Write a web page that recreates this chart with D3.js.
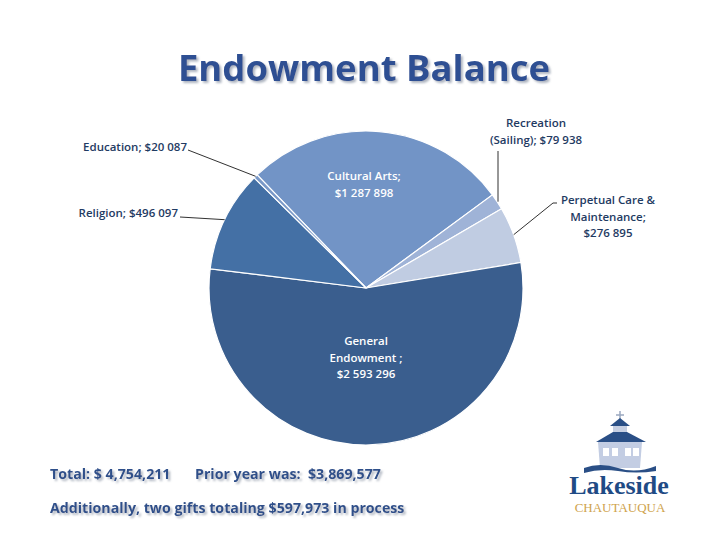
<!DOCTYPE html>
<html>
<head>
<meta charset="utf-8">
<script src="https://cdn.jsdelivr.net/npm/d3@7"></script>
<style>
  body { margin: 0; background: #fff; }
  svg { display: block; }
</style>
</head>
<body>
<div id="chart"></div>
<script>
// data
const categories = ["Cultural Arts", "Recreation (Sailing)", "Perpetual Care & Maintenance", "General Endowment ", "Religion", "Education"];
const values = [1287898, 79938, 276895, 2593296, 496097, 20087];
const sliceColors = ["#7294c6", "#9fb3d7", "#c0cce2", "#3a5e8e", "#4470a5", "#7a99c8"];

const width = 720, height = 540;
const cx = 366, cy = 288, radius = 157;

const svg = d3.select("#chart").append("svg")
    .attr("width", width)
    .attr("height", height);

const defs = svg.append("defs");
const shadow = defs.append("filter").attr("id", "txtShadow")
    .attr("x", "-5%").attr("y", "-20%").attr("width", "110%").attr("height", "150%");
shadow.append("feDropShadow")
    .attr("dx", 2).attr("dy", 2).attr("stdDeviation", 0.8)
    .attr("flood-color", "#9aa3b0").attr("flood-opacity", 0.8);

// title
svg.append("text")
    .attr("x", 364)
    .attr("y", 81)
    .attr("text-anchor", "middle")
    .attr("font-family", "'Open Sans', 'Noto Sans', sans-serif")
    .attr("font-weight", "bold")
    .attr("font-size", "36.5px")
    .attr("fill", "#2d4f93")
    .attr("filter", "url(#txtShadow)")
    .text("Endowment Balance");

// pie (first slice starts at upper-left, clockwise)
const startDeg = -43.9;
const pie = d3.pie().sort(null)
    .startAngle(startDeg * Math.PI / 180)
    .endAngle((startDeg + 360) * Math.PI / 180);
const arcs = pie(values);
const arc = d3.arc().innerRadius(0).outerRadius(radius);

const g = svg.append("g").attr("transform", `translate(${cx},${cy})`);
g.selectAll("path")
    .data(arcs)
    .enter()
    .append("path")
    .attr("d", arc)
    .attr("fill", (d, i) => sliceColors[i])
    .attr("stroke", "#fff")
    .attr("stroke-width", 1.2);

const fmt = v => "$" + d3.format(",")(v).replace(/,/g, " ");
const labelFont = "'Open Sans', 'Noto Sans', sans-serif";

// label layout: lines, anchor, position, colour
const labels = [
    { lines: ["Cultural Arts;", fmt(values[0])], x: 364, y: 180, anchor: "middle", fill: "#fff" },
    { lines: ["Recreation", "(Sailing); " + fmt(values[1])], x: 536, y: 127, anchor: "middle", fill: "#1f3b63" },
    { lines: ["Perpetual Care &", "Maintenance;", fmt(values[2])], x: 608, y: 204, anchor: "middle", fill: "#1f3b63" },
    { lines: ["General", "Endowment ;", fmt(values[3])], x: 366, y: 345, anchor: "middle", fill: "#fff" },
    { lines: ["Religion; " + fmt(values[4])], x: 178, y: 217, anchor: "end", fill: "#1f3b63" },
    { lines: ["Education; " + fmt(values[5])], x: 187, y: 151, anchor: "end", fill: "#1f3b63" }
];

labels.forEach(l => {
    const t = svg.append("text")
        .attr("text-anchor", l.anchor)
        .attr("font-family", labelFont)
        .attr("font-weight", 600)
        .attr("font-size", "11.5px")
        .attr("fill", l.fill);
    l.lines.forEach((s, j) => {
        t.append("tspan").attr("x", l.x).attr("y", l.y + j * 16.5).text(s);
    });
});

// leader lines (from label to slice edge)
const edge = (i, r) => {
    const a = (arcs[i].startAngle + arcs[i].endAngle) / 2;
    return [cx + Math.sin(a) * r, cy - Math.cos(a) * r];
};
const leaders = [
    { i: 5, from: [[188, 150]] },
    { i: 4, from: [[180, 217]] },
    { i: 1, from: [[498, 151]], vertical: true },
    { i: 2, from: [[557, 203], [553, 203]] }
];
leaders.forEach(l => {
    let end = edge(l.i, radius);
    if (l.vertical) end = [l.from[0][0], end[1]];
    const pts = l.from.concat([end]);
    svg.append("path")
        .attr("d", d3.line()(pts))
        .attr("fill", "none")
        .attr("stroke", "#1a1a1a")
        .attr("stroke-width", 0.9);
});

// footer text
const foot = svg.append("g")
    .attr("font-family", labelFont)
    .attr("font-weight", "bold")
    .attr("font-size", "14.2px")
    .attr("fill", "#2f4f8a")
    .attr("filter", "url(#txtShadow)");
foot.append("text").attr("x", 50).attr("y", 479).text("Total: $ 4,754,211");
foot.append("text").attr("x", 195).attr("y", 479).text("Prior year was:\u00a0 $3,869,577");
foot.append("text").attr("x", 50).attr("y", 513).text("Additionally, two gifts totaling $597,973 in process");

// Lakeside Chautauqua logo
const logo = svg.append("g");
logo.append("path") // cross
    .attr("d", "M620,411 V424 M616,415 H624")
    .attr("stroke", "#9aa8c0").attr("stroke-width", 1.5);
logo.append("rect").attr("x", 613).attr("y", 424).attr("width", 14).attr("height", 9).attr("fill", "#c6cfe2");
logo.append("path").attr("d", "M610,426 L620,418 L630,426 Z").attr("fill", "#2a4f86");
logo.append("path").attr("d", "M596,442 L613,432 L627,432 L646,442 Z").attr("fill", "#2a4f86");
logo.append("path").attr("d", "M598,442 L642,442 L640,468 L600,468 Z").attr("fill", "#c3cde3");
[[603, 448], [612, 448], [625, 448], [633, 448]].forEach(p => {
    logo.append("rect").attr("x", p[0]).attr("y", p[1]).attr("width", 6).attr("height", 8).attr("fill", "#fff");
});
logo.append("path")
    .attr("d", "M584,468 Q600,462 618,468 T656,466 L656,471 Q636,474 618,471 T584,473 Z")
    .attr("fill", "#2a4f86");
logo.append("text")
    .attr("x", 619).attr("y", 494)
    .attr("text-anchor", "middle")
    .attr("font-family", "'Liberation Serif', 'DejaVu Serif', serif")
    .attr("font-weight", "bold")
    .attr("font-size", "26px")
    .attr("fill", "#1f4b85")
    .text("Lakeside");
logo.append("text")
    .attr("x", 620).attr("y", 512)
    .attr("text-anchor", "middle")
    .attr("font-family", "'Liberation Serif', 'DejaVu Serif', serif")
    .attr("font-size", "13px")
    .attr("fill", "#cfa34c")
    .text("CHAUTAUQUA");
</script>
</body>
</html>
